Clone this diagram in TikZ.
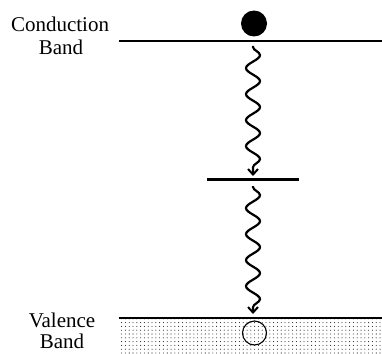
\documentclass[tikz,border=0pt]{standalone}
\usepackage{fontspec}
\setmainfont{Liberation Serif}
\usetikzlibrary{decorations.pathmorphing,arrows.meta,patterns.meta}
\begin{document}
\begin{tikzpicture}[x=1pt,y=-1pt,
    level/.style={line width=2.4pt},
    label/.style={font=\fontsize{21}{24}\selectfont, anchor=base, inner sep=0pt},
    photon/.style={line width=2.2pt,
      decorate, decoration={snake, amplitude=7pt, segment length=26pt,
        pre length=1pt, post length=6pt},
      -{Straight Barb[length=5.5pt,width=10pt,line width=2pt]}},
  ]
  \useasboundingbox (0,0) rectangle (382,353);

  % valence band: dotted filling under the band edge
  \fill[pattern={Dots[distance=3.8pt,radius=0.55pt]}, pattern color=black!85]
    (119,319) rectangle (382,353);

  % band edges and the trap level
  \coordinate (cbL) at (119,41);
  \coordinate (cbR) at (382,41);
  \coordinate (tL) at (207,179.5);
  \coordinate (tR) at (299,179.5);
  \coordinate (vbL) at (119,318);
  \coordinate (vbR) at (382,318);
  \draw[level] (cbL) -- (cbR);
  \draw[level, line width=2.2pt] (tL) -- (tR);
  \draw[level] (vbL) -- (vbR);

  % electron and hole
  \fill (254,23.5) circle (13pt);
  \draw[line width=1.1pt] (254.5,333) circle (12pt);

  % relaxation steps
  \coordinate (p1s) at (253,46);
  \coordinate (p1e) at (253,176);
  \coordinate (p2s) at (253,186);
  \coordinate (p2e) at (253,314);
  \draw[photon] (p1s) -- (p1e);
  \draw[photon] (p2s) -- (p2e);

  % band labels
  \node[label] (cb1) at (60,32) {Conduction};
  \node[label] (cb2) at (61,55) {Band};
  \node[label] (vb1) at (62,327) {Valence};
  \node[label] (vb2) at (62,348) {Band};
\end{tikzpicture}
\end{document}
